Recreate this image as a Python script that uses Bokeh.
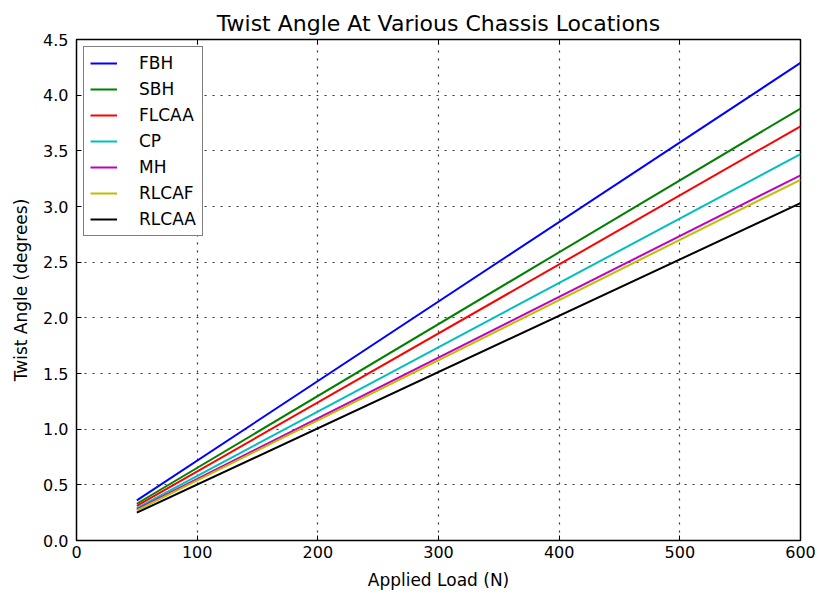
from bokeh.plotting import figure
from bokeh.models import FixedTicker, Legend, LegendItem, LinearAxis, NumeralTickFormatter, Range1d
from bokeh.embed import file_html
from bokeh.resources import INLINE

loads = [50, 600]
series_names = ["FBH", "SBH", "FLCAA", "CP", "MH", "RLCAF", "RLCAA"]
fbh = [0.36, 4.29]
sbh = [0.33, 3.88]
flcaa = [0.31, 3.72]
cp = [0.29, 3.47]
mh = [0.28, 3.28]
rlcaf = [0.27, 3.24]
rlcaa = [0.25, 3.03]
series_values = [fbh, sbh, flcaa, cp, mh, rlcaf, rlcaa]
colors = ["#0000ff", "#008000", "#ff0000", "#00bfbf", "#bf00bf", "#bfbf00", "#000000"]
x_ticks = [0, 100, 200, 300, 400, 500, 600]
y_ticks = [0.0, 0.5, 1.0, 1.5, 2.0, 2.5, 3.0, 3.5, 4.0, 4.5]

FONT = "DejaVu Sans"

p = figure(width=821, height=597, output_backend="svg", toolbar_location=None,
           x_range=Range1d(0, 600), y_range=Range1d(0, 4.5),
           title="Twist Angle At Various Chassis Locations",
           min_border_left=76, min_border_right=21, min_border_top=39, min_border_bottom=57)
p.title.align = "center"
p.title.text_font = FONT
p.title.text_font_size = "22px"
p.title.text_font_style = "normal"
p.title.text_color = "black"
p.title.standoff = 8

p.outline_line_color = "black"
p.outline_line_width = 1.5

items = []
for name, vals, c in zip(series_names, series_values, colors):
    r = p.line(loads, vals, line_color=c, line_width=2)
    items.append(LegendItem(label=name, renderers=[r]))

for ax in [p.xaxis[0], p.yaxis[0]]:
    ax.major_tick_in = 5
    ax.major_tick_out = 0
    ax.minor_tick_in = 0
    ax.minor_tick_out = 0
    ax.axis_line_color = None
    ax.major_tick_line_color = "black"
    ax.major_label_text_color = "black"
    ax.major_label_text_font = FONT
    ax.major_label_text_font_size = "16px"
    ax.axis_label_text_color = "black"
    ax.axis_label_text_font = FONT
    ax.axis_label_text_font_size = "17px"
    ax.axis_label_text_font_style = "normal"

p.xaxis[0].major_label_standoff = 5
p.yaxis[0].major_label_standoff = 8
p.xaxis[0].ticker = FixedTicker(ticks=x_ticks)
p.yaxis[0].ticker = FixedTicker(ticks=y_ticks)
p.yaxis[0].formatter = NumeralTickFormatter(format="0.0")
p.xaxis[0].formatter = NumeralTickFormatter(format="0")
p.xaxis[0].axis_label = "Applied Load (N)"
p.yaxis[0].axis_label = "Twist Angle (degrees)"
p.xaxis[0].axis_label_standoff = 9
p.yaxis[0].axis_label_standoff = 9

ax_r = LinearAxis(ticker=FixedTicker(ticks=y_ticks),
                  major_label_overrides={t: "" for t in y_ticks},
                  major_label_standoff=0,
                  major_tick_in=5, major_tick_out=0, minor_tick_in=0, minor_tick_out=0,
                  major_tick_line_color="black", axis_line_color=None)
ax_t = LinearAxis(ticker=FixedTicker(ticks=x_ticks),
                  major_label_overrides={t: "" for t in x_ticks},
                  major_label_standoff=0,
                  major_tick_in=5, major_tick_out=0, minor_tick_in=0, minor_tick_out=0,
                  major_tick_line_color="black", axis_line_color=None)
p.add_layout(ax_r, "right")
p.add_layout(ax_t, "above")

p.xgrid.ticker = FixedTicker(ticks=x_ticks)
p.ygrid.ticker = FixedTicker(ticks=y_ticks)
for g in [p.xgrid[0], p.ygrid[0]]:
    g.grid_line_color = "black"
    g.grid_line_dash = "2 6"
    g.grid_line_width = 1.2
    g.grid_line_alpha = 0.8

legend = Legend(items=items, location="top_left")
legend.border_line_color = "black"
legend.border_line_width = 1.5
legend.label_text_font = FONT
legend.label_text_font_size = "17px"
legend.label_text_color = "black"
legend.glyph_width = 27
legend.glyph_height = 18
legend.label_height = 18
legend.spacing = 6
legend.label_standoff = 22
legend.padding = 6
legend.margin = 7
legend.background_fill_alpha = 1
p.add_layout(legend)

open("out.html", "w").write(file_html(p, INLINE))
